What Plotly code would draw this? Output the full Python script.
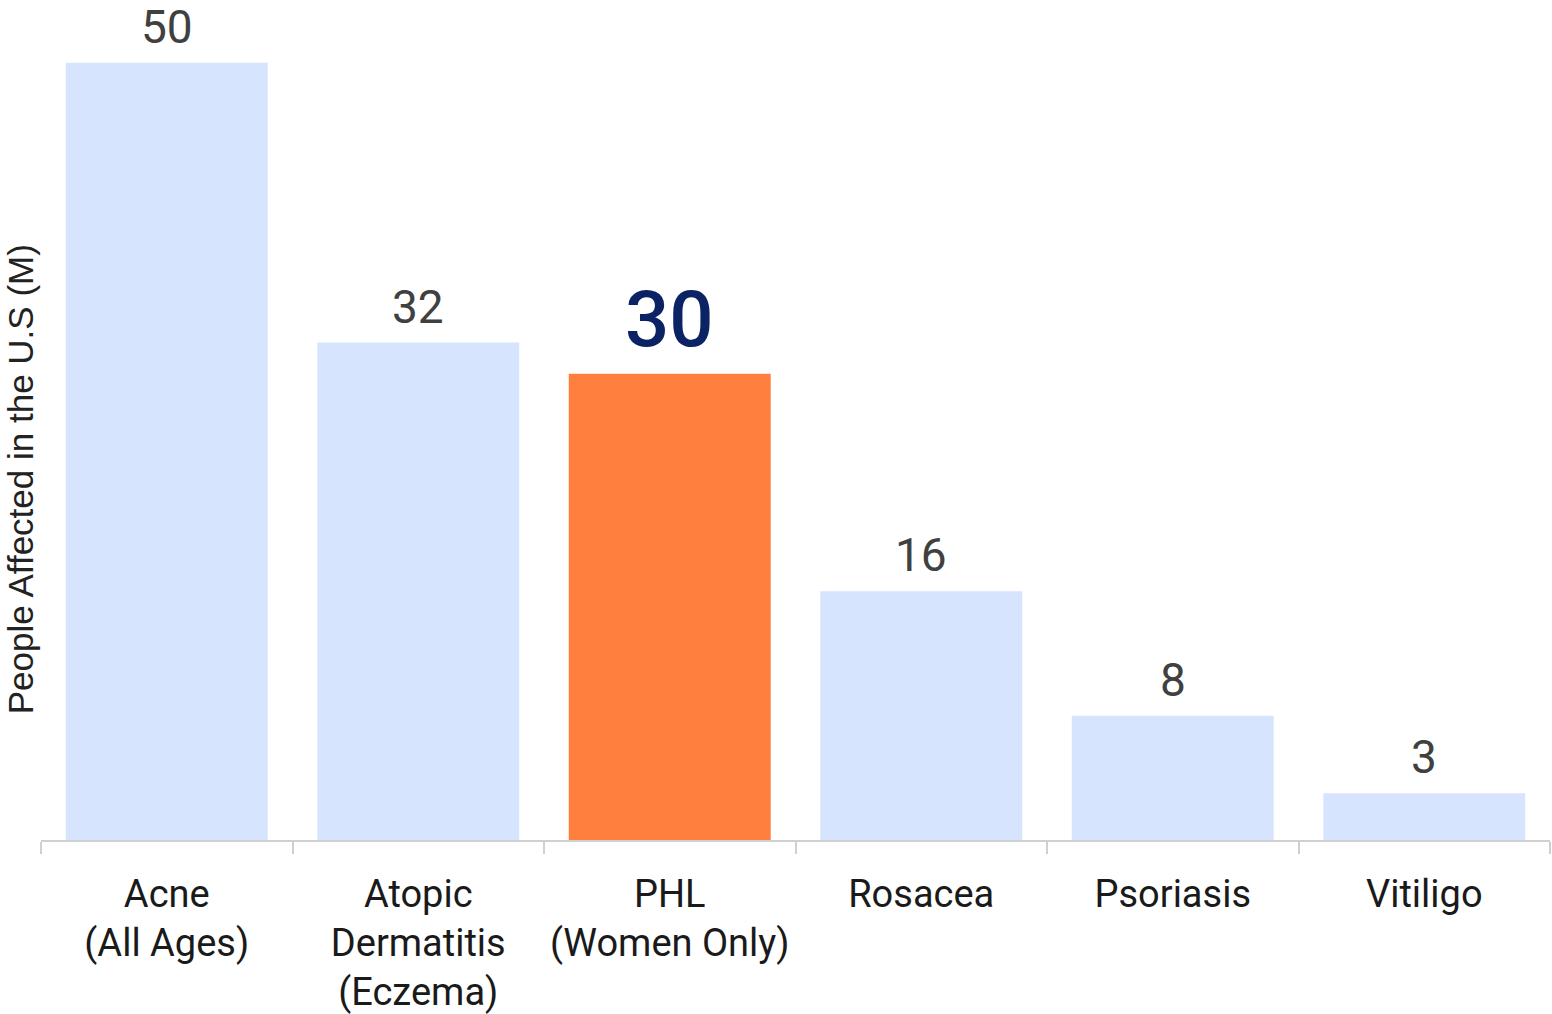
import plotly.graph_objects as go

# Prevalence of skin conditions in the U.S., millions of people
categories = [
    "Acne<br>(All Ages)",
    "Atopic<br>Dermatitis<br>(Eczema)",
    "PHL<br>(Women Only)",
    "Rosacea",
    "Psoriasis",
    "Vitiligo",
]
people_millions = [50, 32, 30, 16, 8, 3]
highlight = "PHL<br>(Women Only)"

LIGHT = "#d6e5fd"
ORANGE = "#fe7f3e"
NAVY = "#0b2265"
AXIS = "#d0d0d0"
FONT = "Roboto, Liberation Sans, Arial, sans-serif"

bar_colors = [ORANGE if c == highlight else LIGHT for c in categories]

fig = go.Figure(
    go.Bar(
        x=categories,
        y=people_millions,
        marker=dict(color=bar_colors, line=dict(width=0)),
        hoverinfo="skip",
    )
)

# Value labels above each bar; the highlighted one is larger and navy
for c, v in zip(categories, people_millions):
    hl = c == highlight
    fig.add_annotation(
        x=c, y=v, xref="x", yref="y",
        text=str(v), showarrow=False,
        yanchor="middle", yshift=54 if hl else 36,
        font=dict(family=FONT, size=78 if hl else 46,
                  weight=500 if hl else 400,
                  color=NAVY if hl else "#404040"),
    )

fig.add_annotation(
    xref="paper", yref="paper", x=0, y=(843 - 481) / 843,
    xshift=-21, text="People Affected in the U.S (M)", showarrow=False,
    textangle=-90, xanchor="center", yanchor="middle",
    font=dict(family="Liberation Sans, Arial, sans-serif", size=35, color="#222222"),
)

fig.update_layout(
    width=1552, height=1014,
    margin=dict(l=41, r=2, t=0, b=171),
    paper_bgcolor="white", plot_bgcolor="white",
    bargap=0.197,
    showlegend=False,
    xaxis=dict(
        type="category",
        showline=True, linecolor=AXIS, linewidth=2,
        ticks="outside", tickson="boundaries", ticklen=12,
        tickcolor=AXIS, tickwidth=2,
        ticklabelstandoff=19,
        showgrid=False,
        tickfont=dict(family=FONT, size=38, weight=400, color="#1a1a1a"),
    ),
    yaxis=dict(
        range=[0, 54.04], showticklabels=False, showgrid=False,
        zeroline=False, showline=False, ticks="",
    ),
)

fig.write_html("out.html")
